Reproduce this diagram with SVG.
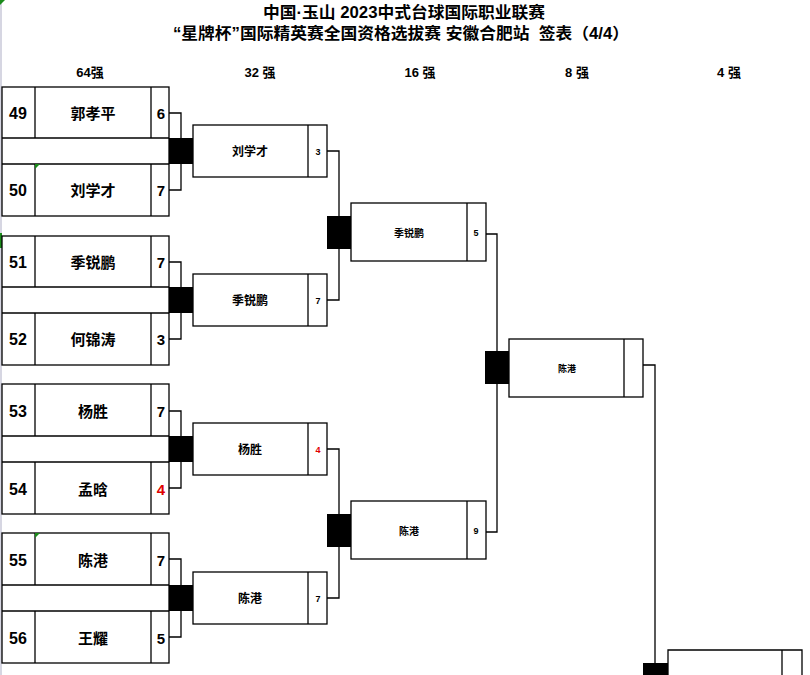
<svg xmlns="http://www.w3.org/2000/svg" width="810" height="675" viewBox="0 0 810 675">
<style>
text{font-family:"Liberation Sans","Noto Sans CJK SC",sans-serif;font-weight:bold;fill:#000;text-anchor:middle;dominant-baseline:central}
.f{fill:#fff;stroke:#000;stroke-width:1.3}
.l{fill:none;stroke:#000;stroke-width:1.3}
.b{fill:#000}
.t1{font-size:16px;white-space:pre}
.h{font-size:13px}
.seed{font-size:16px}
.nm{font-size:15px}
.sc{font-size:15px}
.n2{font-size:12px}
.s2{font-size:9px}
.n3{font-size:10px}
.n4{font-size:9px}
.red{fill:#e00000}
.g{fill:#1a8a1a}
</style>
<rect x="0" y="0" width="810" height="675" fill="#fff"/>
<line x1="1" y1="0" x2="1" y2="675" stroke="#c8c8d8" stroke-width="1.5"/>
<polygon class="g" points="0,0 5,0 0,5"/>
<rect class="g" x="0" y="233" width="2" height="15"/>

<g id="title">
<text class="t1" x="404" y="12" textLength="282" lengthAdjust="spacingAndGlyphs">中国·玉山 2023中式台球国际职业联赛</text>
<text class="t1" x="401" y="33" textLength="456" lengthAdjust="spacingAndGlyphs" xml:space="preserve">“星牌杯”国际精英赛全国资格选拔赛 安徽合肥站  签表（4/4）</text>
</g>
<g id="headings">
<text class="h" x="90" y="72">64强</text>
<text class="h" x="260" y="72">32 强</text>
<text class="h" x="420" y="72">16 强</text>
<text class="h" x="577" y="72">8 强</text>
<text class="h" x="729" y="72">4 强</text>
</g>

<g id="pair1">
<rect class="f" x="2" y="87" width="167" height="129"/>
<line class="l" x1="2" y1="138" x2="169" y2="138"/>
<line class="l" x1="2" y1="164" x2="169" y2="164"/>
<line class="l" x1="35" y1="87" x2="35" y2="138"/>
<line class="l" x1="151" y1="87" x2="151" y2="138"/>
<line class="l" x1="35" y1="164" x2="35" y2="216"/>
<line class="l" x1="151" y1="164" x2="151" y2="216"/>
<polygon class="g" points="35,164 40,164 35,169"/>
<text class="seed" x="18" y="113">49</text><text class="nm" x="93" y="113">郭孝平</text><text class="sc" x="161" y="113">6</text>
<text class="seed" x="18" y="190">50</text><text class="nm" x="93" y="190">刘学才</text><text class="sc" x="161" y="190">7</text>
</g>
<g id="pair2">
<rect class="f" x="2" y="236" width="167" height="129"/>
<line class="l" x1="2" y1="287" x2="169" y2="287"/>
<line class="l" x1="2" y1="313" x2="169" y2="313"/>
<line class="l" x1="35" y1="236" x2="35" y2="287"/>
<line class="l" x1="151" y1="236" x2="151" y2="287"/>
<line class="l" x1="35" y1="313" x2="35" y2="365"/>
<line class="l" x1="151" y1="313" x2="151" y2="365"/>
<text class="seed" x="18" y="262">51</text><text class="nm" x="93" y="262">季锐鹏</text><text class="sc" x="161" y="262">7</text>
<text class="seed" x="18" y="339">52</text><text class="nm" x="93" y="339">何锦涛</text><text class="sc" x="161" y="339">3</text>
</g>
<g id="pair3">
<rect class="f" x="2" y="384" width="167" height="130"/>
<line class="l" x1="2" y1="436" x2="169" y2="436"/>
<line class="l" x1="2" y1="462" x2="169" y2="462"/>
<line class="l" x1="35" y1="384" x2="35" y2="436"/>
<line class="l" x1="151" y1="384" x2="151" y2="436"/>
<line class="l" x1="35" y1="462" x2="35" y2="514"/>
<line class="l" x1="151" y1="462" x2="151" y2="514"/>
<text class="seed" x="18" y="411">53</text><text class="nm" x="93" y="411">杨胜</text><text class="sc" x="161" y="411">7</text>
<text class="seed" x="18" y="489">54</text><text class="nm" x="93" y="489">孟晗</text><text class="sc red" x="161" y="489">4</text>
</g>
<g id="pair4">
<rect class="f" x="2" y="533" width="167" height="130"/>
<line class="l" x1="2" y1="585" x2="169" y2="585"/>
<line class="l" x1="2" y1="611" x2="169" y2="611"/>
<line class="l" x1="35" y1="533" x2="35" y2="585"/>
<line class="l" x1="151" y1="533" x2="151" y2="585"/>
<line class="l" x1="35" y1="611" x2="35" y2="663"/>
<line class="l" x1="151" y1="611" x2="151" y2="663"/>
<polygon class="g" points="35,533 40,533 35,538"/>
<text class="seed" x="18" y="560">55</text><text class="nm" x="93" y="560">陈港</text><text class="sc" x="161" y="560">7</text>
<text class="seed" x="18" y="638">56</text><text class="nm" x="93" y="638">王耀</text><text class="sc" x="161" y="638">5</text>
</g>

<g id="connectors">
<polyline class="l" points="169,113 181,113 181,190 169,190"/>
<polyline class="l" points="169,262 181,262 181,339 169,339"/>
<polyline class="l" points="169,411 181,411 181,488 169,488"/>
<polyline class="l" points="169,559 181,559 181,637 169,637"/>
<polyline class="l" points="327,151 339,151 339,300 327,300"/>
<polyline class="l" points="327,449 339,449 339,598 327,598"/>
<polyline class="l" points="486,234 497,234 497,532 486,532"/>
<polyline class="l" points="643,365 655,365 655,663"/>
<rect class="b" x="169" y="138" width="24" height="26"/>
<rect class="b" x="169" y="287" width="24" height="26"/>
<rect class="b" x="169" y="436" width="24" height="26"/>
<rect class="b" x="169" y="585" width="24" height="26"/>
<rect class="b" x="327" y="216" width="24" height="33"/>
<rect class="b" x="327" y="514" width="24" height="33"/>
<rect class="b" x="485" y="351" width="24" height="33"/>
<rect class="b" x="643" y="663" width="25" height="14"/>
</g>

<g id="r32-1">
<rect class="f" x="193" y="125" width="134" height="52"/>
<line class="l" x1="308" y1="125" x2="308" y2="177"/>
<text class="n2" x="250" y="152">刘学才</text><text class="s2" x="318" y="152">3</text>
</g>
<g id="r32-2">
<rect class="f" x="193" y="274" width="134" height="52"/>
<line class="l" x1="308" y1="274" x2="308" y2="326"/>
<text class="n2" x="250" y="301">季锐鹏</text><text class="s2" x="318" y="301">7</text>
</g>
<g id="r32-3">
<rect class="f" x="193" y="423" width="134" height="52"/>
<line class="l" x1="308" y1="423" x2="308" y2="475"/>
<text class="n2" x="250" y="450">杨胜</text><text class="s2 red" x="318" y="450">4</text>
</g>
<g id="r32-4">
<rect class="f" x="193" y="572" width="134" height="52"/>
<line class="l" x1="308" y1="572" x2="308" y2="624"/>
<text class="n2" x="250" y="599">陈港</text><text class="s2" x="318" y="599">7</text>
</g>

<g id="r16-1">
<rect class="f" x="351" y="203" width="135" height="58"/>
<line class="l" x1="467" y1="203" x2="467" y2="261"/>
<text class="n3" x="409" y="233">季锐鹏</text><text class="s2" x="476" y="233">5</text>
</g>
<g id="r16-2">
<rect class="f" x="351" y="501" width="135" height="58"/>
<line class="l" x1="467" y1="501" x2="467" y2="559"/>
<text class="n3" x="409" y="531">陈港</text><text class="s2" x="476" y="531">9</text>
</g>

<g id="r8-1">
<rect class="f" x="509" y="339" width="134" height="58"/>
<line class="l" x1="624" y1="339" x2="624" y2="397"/>
<text class="n4" x="567" y="369">陈港</text>
</g>

<g id="r4-1">
<polyline class="l" points="668,680 668,650 802,650 802,680"/>
<line class="l" x1="782" y1="650" x2="782" y2="680"/>
</g>
</svg>
